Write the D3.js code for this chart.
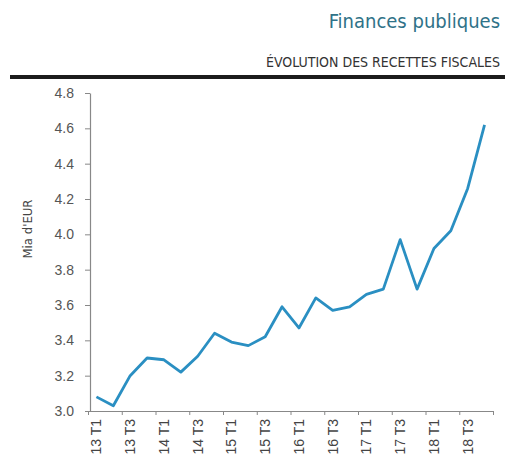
<!DOCTYPE html>
<html>
<head>
<meta charset="utf-8">
<script src="https://cdn.jsdelivr.net/npm/d3@7"></script>
<style>
  body { margin: 0; background: #fff; }
  svg { display: block; font-family: "Liberation Sans Narrow", "DejaVu Sans Condensed", Roboto, sans-serif; }
</style>
</head>
<body>
<svg id="chart"></svg>
<script>
const quarters = ["13 T1","13 T2","13 T3","13 T4","14 T1","14 T2","14 T3","14 T4",
                  "15 T1","15 T2","15 T3","15 T4","16 T1","16 T2","16 T3","16 T4",
                  "17 T1","17 T2","17 T3","17 T4","18 T1","18 T2","18 T3","18 T4"];
const recettes = [3.08, 3.03, 3.20, 3.30, 3.29, 3.22, 3.31, 3.44,
                  3.39, 3.37, 3.42, 3.59, 3.47, 3.64, 3.57, 3.59,
                  3.66, 3.69, 3.97, 3.69, 3.92, 4.02, 4.26, 4.62];
const yTicks = [3.0, 3.2, 3.4, 3.6, 3.8, 4.0, 4.2, 4.4, 4.6, 4.8];
const xLabels = quarters.filter((d, i) => i % 2 === 0);

const width = 505;
const height = 463;
const marginTop = 93;
const marginRight = 12;
const marginBottom = 52;
const marginLeft = 88;

const svg = d3.select("#chart")
      .attr("width", width)
      .attr("height", height)
      .attr("viewBox", [0, 0, width, height]);

// header
svg.append("text")
      .attr("x", 500)
      .attr("y", 28)
      .attr("font-size", 20)
      .attr("fill", "#2f7288")
      .attr("text-anchor", "end")
      .text("Finances publiques");
svg.append("text")
      .attr("x", 500)
      .attr("y", 67)
      .attr("font-size", 14)
      .attr("fill", "#333")
      .attr("text-anchor", "end")
      .text("ÉVOLUTION DES RECETTES FISCALES");
svg.append("rect")
      .attr("x", 10)
      .attr("y", 75)
      .attr("width", 495)
      .attr("height", 4)
      .attr("fill", "#1c1c1c");

const x = d3.scaleBand()
      .domain(quarters)
      .range([marginLeft, width - marginRight]);
const xb = d3.scaleLinear()
      .domain([0, quarters.length])
      .range([marginLeft, width - marginRight]);
const y = d3.scaleLinear()
      .domain([3.0, 4.8])
      .range([height - marginBottom, marginTop]);

// y axis
svg.append("g")
      .attr("transform", `translate(90,0)`)
      .call(d3.axisLeft(y).tickValues(yTicks).tickFormat(d3.format(".1f")).tickSize(5).tickSizeOuter(0))
      .call(g => g.select(".domain").attr("stroke", "#888").attr("stroke-width", 1.2))
      .call(g => g.selectAll(".tick line").attr("stroke", "#888"))
      .call(g => g.selectAll(".tick text")
            .attr("x", -16)
            .attr("fill", "#555")
            .attr("font-size", 14));

svg.append("text")
      .attr("transform", `translate(32,229) rotate(-90)`)
      .attr("font-size", 13)
      .attr("fill", "#444")
      .attr("text-anchor", "middle")
      .text("Mia d'EUR");

// x axis: ticks on band edges, labels on every second band
svg.append("g")
      .attr("transform", `translate(0,${height - marginBottom})`)
      .call(d3.axisBottom(xb).tickValues(d3.range(0, quarters.length + 1, 2)).tickFormat("").tickSize(4).tickSizeOuter(0))
      .call(g => g.select(".domain").attr("stroke", "#888").attr("stroke-width", 1.2))
      .call(g => g.selectAll(".tick line").attr("stroke", "#888"));

svg.append("g")
      .attr("transform", `translate(0,${height - marginBottom})`)
      .call(d3.axisBottom(x).tickValues(xLabels).tickSize(0))
      .call(g => g.select(".domain").remove())
      .call(g => g.selectAll(".tick text")
            .attr("transform", "rotate(-90)")
            .attr("x", -8)
            .attr("y", 0)
            .attr("dy", "0.35em")
            .attr("text-anchor", "end")
            .attr("fill", "#444")
            .attr("font-size", 14));

// line
const line = d3.line()
      .x((d, i) => x(quarters[i]) + x.bandwidth() / 2)
      .y(d => y(d));
svg.append("path")
      .attr("fill", "none")
      .attr("stroke", "#2a8fc2")
      .attr("stroke-width", 2.8)
      .attr("stroke-linejoin", "round")
      .attr("d", line(recettes));
</script>
</body>
</html>
